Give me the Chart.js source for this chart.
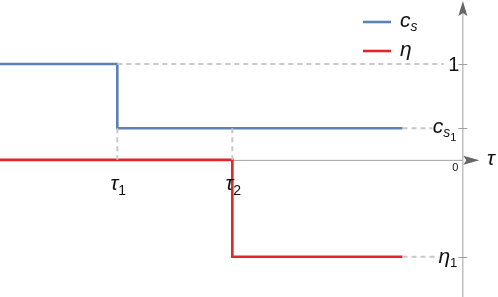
<!DOCTYPE html>
<html>
<head>
<meta charset="utf-8">
<script src="https://cdn.jsdelivr.net/npm/chart.js@4"></script>
<style>
  body { margin: 0; background: #fff; }
  #wrap { width: 498px; height: 297px; }
</style>
</head>
<body>
<div id="wrap"><canvas id="chart" width="498" height="297"></canvas></div>
<script>
// switch times and levels
const tauTicks = [1.02, 2.02];       // tau_1, tau_2
const tauLabels = ['1', '2'];
const csLevels = [1, 0.33];          // c_s before / after tau_1
const etaLevels = [0, -1.01];        // eta before / after tau_2
const tStart = 0;
const tEnd = 3.5;
const axisAt = 4.02;                 // where the vertical axis sits
const guideEnd = [3.86, 3.76, 3.82]; // end of dashed guides: 1, c_s1, eta_1

const BLUE = '#5e81b5';
const RED = '#e0262a';
const GUIDE = '#c8c8c8';
const AXIS = '#a0a0a0';
const FONT = '"Liberation Sans", Arial, sans-serif';

function stepPoints(at, levels) {
    return [
        { x: tStart, y: levels[0] },
        { x: at, y: levels[0] },
        { x: at, y: levels[1] },
        { x: tEnd, y: levels[1] }
    ];
}

function guide(points) {
    return {
        data: points,
        borderColor: GUIDE,
        borderWidth: 2,
        borderDash: [5, 4],
        pointRadius: 0,
        fill: false,
        isGuide: true
    };
}

const datasets = [
    guide([{ x: tauTicks[0], y: csLevels[0] }, { x: guideEnd[0], y: csLevels[0] }]),
    guide([{ x: tEnd, y: csLevels[1] }, { x: guideEnd[1], y: csLevels[1] }]),
    guide([{ x: tEnd, y: etaLevels[1] }, { x: guideEnd[2], y: etaLevels[1] }]),
    guide([{ x: tauTicks[0], y: csLevels[1] }, { x: tauTicks[0], y: 0 }]),
    guide([{ x: tauTicks[1], y: csLevels[1] }, { x: tauTicks[1], y: 0 }]),
    {
        label: 'eta',
        data: stepPoints(tauTicks[1], etaLevels),
        borderColor: RED,
        borderWidth: 2.6,
        pointRadius: 0,
        fill: false
    },
    {
        label: 'cs',
        data: stepPoints(tauTicks[0], csLevels),
        borderColor: BLUE,
        borderWidth: 2.6,
        pointRadius: 0,
        fill: false
    }
];

// text with subscripts: parts = [[text, size, dy, style], ...]
function drawParts(ctx, parts, x, y, align) {
    let w = 0;
    parts.forEach(p => {
        ctx.font = p[3] + ' ' + p[1] + 'px ' + FONT;
        w += ctx.measureText(p[0]).width;
    });
    let cx = align === 'right' ? x - w : align === 'center' ? x - w / 2 : x;
    ctx.textAlign = 'left';
    ctx.textBaseline = 'alphabetic';
    parts.forEach(p => {
        ctx.font = p[3] + ' ' + p[1] + 'px ' + FONT;
        ctx.fillText(p[0], cx, y + p[2]);
        cx += ctx.measureText(p[0]).width;
    });
}

const axesPlugin = {
    id: 'axes',
    beforeDatasetsDraw(chart) {
        const { ctx, scales: { x, y } } = chart;
        const ax = x.getPixelForValue(axisAt);
        const y0 = y.getPixelForValue(0);
        ctx.save();
        ctx.strokeStyle = AXIS;
        ctx.lineWidth = 1;
        ctx.beginPath();
        ctx.moveTo(0, y0 + 0.5);
        ctx.lineTo(ax, y0 + 0.5);
        ctx.moveTo(ax + 0.5, chart.height);
        ctx.lineTo(ax + 0.5, 10);
        // ticks on vertical axis
        [csLevels[0], csLevels[1], etaLevels[1]].forEach(v => {
            const py = Math.round(y.getPixelForValue(v)) + 0.5;
            ctx.moveTo(ax - 4, py);
            ctx.lineTo(ax + 5, py);
        });
        ctx.stroke();
        // arrows
        ctx.fillStyle = '#666';
        ctx.beginPath();
        ctx.moveTo(ax + 0.5, 1);
        ctx.lineTo(ax + 5, 16);
        ctx.lineTo(ax + 0.5, 13);
        ctx.lineTo(ax - 4, 16);
        ctx.closePath();
        ctx.fill();
        ctx.beginPath();
        ctx.moveTo(ax + 17, y0 + 0.5);
        ctx.lineTo(ax + 1, y0 - 4);
        ctx.lineTo(ax + 4, y0 + 0.5);
        ctx.lineTo(ax + 1, y0 + 5);
        ctx.closePath();
        ctx.fill();
        ctx.restore();
    },
    afterDraw(chart) {
        const { ctx, scales: { x, y } } = chart;
        const ax = x.getPixelForValue(axisAt);
        const y0 = y.getPixelForValue(0);
        ctx.save();
        ctx.fillStyle = '#111';
        // tick labels on vertical axis
        const p1 = y.getPixelForValue(csLevels[0]);
        drawParts(ctx, [['1', 20, 0, '']], ax - 3, p1 + 7, 'right');
        const p2 = y.getPixelForValue(csLevels[1]);
        drawParts(ctx, [['c', 21, 0, 'italic'], ['s', 14, 4, 'italic'], ['1', 11, 8, '']], ax - 6, p2 + 5, 'right');
        const p3 = y.getPixelForValue(etaLevels[1]);
        drawParts(ctx, [['\u03b7', 21, 0, 'italic'], ['1', 13, 4, '']], ax - 5, p3 + 6, 'right');
        // origin and axis name
        drawParts(ctx, [['0', 11, 0, '']], ax - 7, y0 + 11, 'center');
        drawParts(ctx, [['\u03c4', 21, 0, 'italic']], 491, y0 + 5, 'center');
        // tau ticks
        tauTicks.forEach((t, i) => {
            const px = x.getPixelForValue(t);
            drawParts(ctx, [['\u03c4', 21, 0, 'italic'], [tauLabels[i], 14, 5, '']], px + 1, y0 + 30, 'center');
        });
        // legend
        const items = chart.data.datasets.filter(d => !d.isGuide).reverse();
        items.forEach((d, i) => {
            const ly = 22 + i * 29;
            ctx.strokeStyle = d.borderColor;
            ctx.lineWidth = 2.6;
            ctx.beginPath();
            ctx.moveTo(363, ly);
            ctx.lineTo(391, ly);
            ctx.stroke();
            const parts = d.label === 'cs'
                ? [['c', 21, 0, 'italic'], ['s', 14, 4, 'italic']]
                : [['\u03b7', 21, 0, 'italic']];
            drawParts(ctx, parts, 400, ly + 5, 'left');
        });
        ctx.restore();
    }
};

new Chart(document.getElementById('chart'), {
    type: 'line',
    data: { datasets: datasets },
    options: {
        responsive: false,
        animation: false,
        layout: { padding: 0 },
        plugins: { legend: { display: false }, tooltip: { enabled: false } },
        scales: {
            x: { type: 'linear', min: 0, max: 4.33, display: false },
            y: { type: 'linear', min: -1.43, max: 1.667, display: false }
        }
    },
    plugins: [axesPlugin]
});
</script>
</body>
</html>
